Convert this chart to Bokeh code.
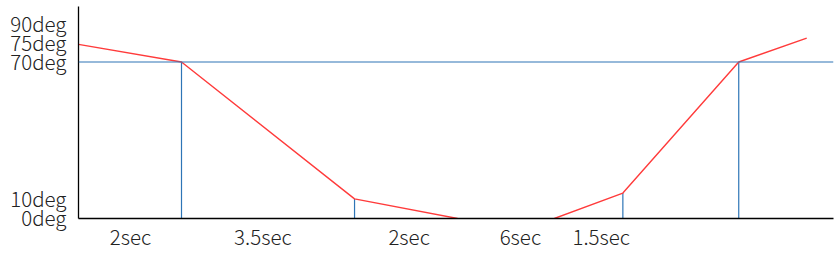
import math
from bokeh.plotting import figure
from bokeh.models import Range1d, FixedTicker, Span
from bokeh.embed import file_html
from bokeh.resources import INLINE

# red profile (time in diagram seconds, angle in deg); NaN = gap
t_profile = [0.0, 2.0, 5.36, 7.36, math.nan, 9.24, 10.57, 12.82, 14.14]
deg_profile = [78.1, 70.2, 8.8, 0.0, math.nan, 0.0, 11.4, 70.2, 80.9]

# blue drop lines
t_marks = [2.0, 5.36, 10.57, 12.82]
deg_marks = [70.2, 8.8, 11.4, 70.2]
ref_deg = 70.2

# axis labels (positions as drawn in the diagram)
ytick_pos = [0.6, 9.2, 70.7, 79.3, 87.7]
ytick_labels = ["0deg", "10deg", "70deg", "75deg", "90deg"]
xtick_pos = [1.01, 3.58, 6.42, 8.58, 10.15]
xtick_labels = ["2sec", "3.5sec", "2sec", "6sec", "1.5sec"]

FONT = "Noto Sans CJK JP Light, Noto Sans CJK JP"
TXT = "#222222"

p = figure(width=837, height=253, output_backend="svg", toolbar_location=None,
           x_range=Range1d(0, 14.66), y_range=Range1d(0, 95.1),
           min_border_left=78, min_border_right=4, min_border_top=6, min_border_bottom=35)
p.outline_line_color = None
p.grid.visible = False
p.background_fill_color = "white"
p.border_fill_color = "white"

p.add_layout(Span(location=ref_deg, dimension="width", line_color="#2E75B6", line_width=1.2))
p.segment(x0=t_marks, y0=[0] * len(t_marks), x1=t_marks, y1=deg_marks,
          line_color="#2E75B6", line_width=1.2)
p.line(t_profile, deg_profile, line_color="#FF3B3B", line_width=1.4)

for ax in (p.xaxis[0], p.yaxis[0]):
    ax.axis_line_color = "black"
    ax.axis_line_width = 1.3
    ax.major_tick_line_color = None
    ax.minor_tick_line_color = None
    ax.major_tick_out = 0
    ax.major_tick_in = 0
    ax.minor_tick_out = 0
    ax.minor_tick_in = 0
    ax.major_label_text_font = FONT
    ax.major_label_text_font_size = "20.5px"
    ax.major_label_text_color = TXT

p.yaxis[0].ticker = FixedTicker(ticks=ytick_pos)
p.yaxis[0].major_label_overrides = {v: s for v, s in zip(ytick_pos, ytick_labels)}
p.yaxis[0].major_label_standoff = 12
p.xaxis[0].ticker = FixedTicker(ticks=xtick_pos)
p.xaxis[0].major_label_overrides = {v: s for v, s in zip(xtick_pos, xtick_labels)}
p.xaxis[0].major_label_standoff = 2

open("out.html", "w").write(file_html(p, INLINE))
